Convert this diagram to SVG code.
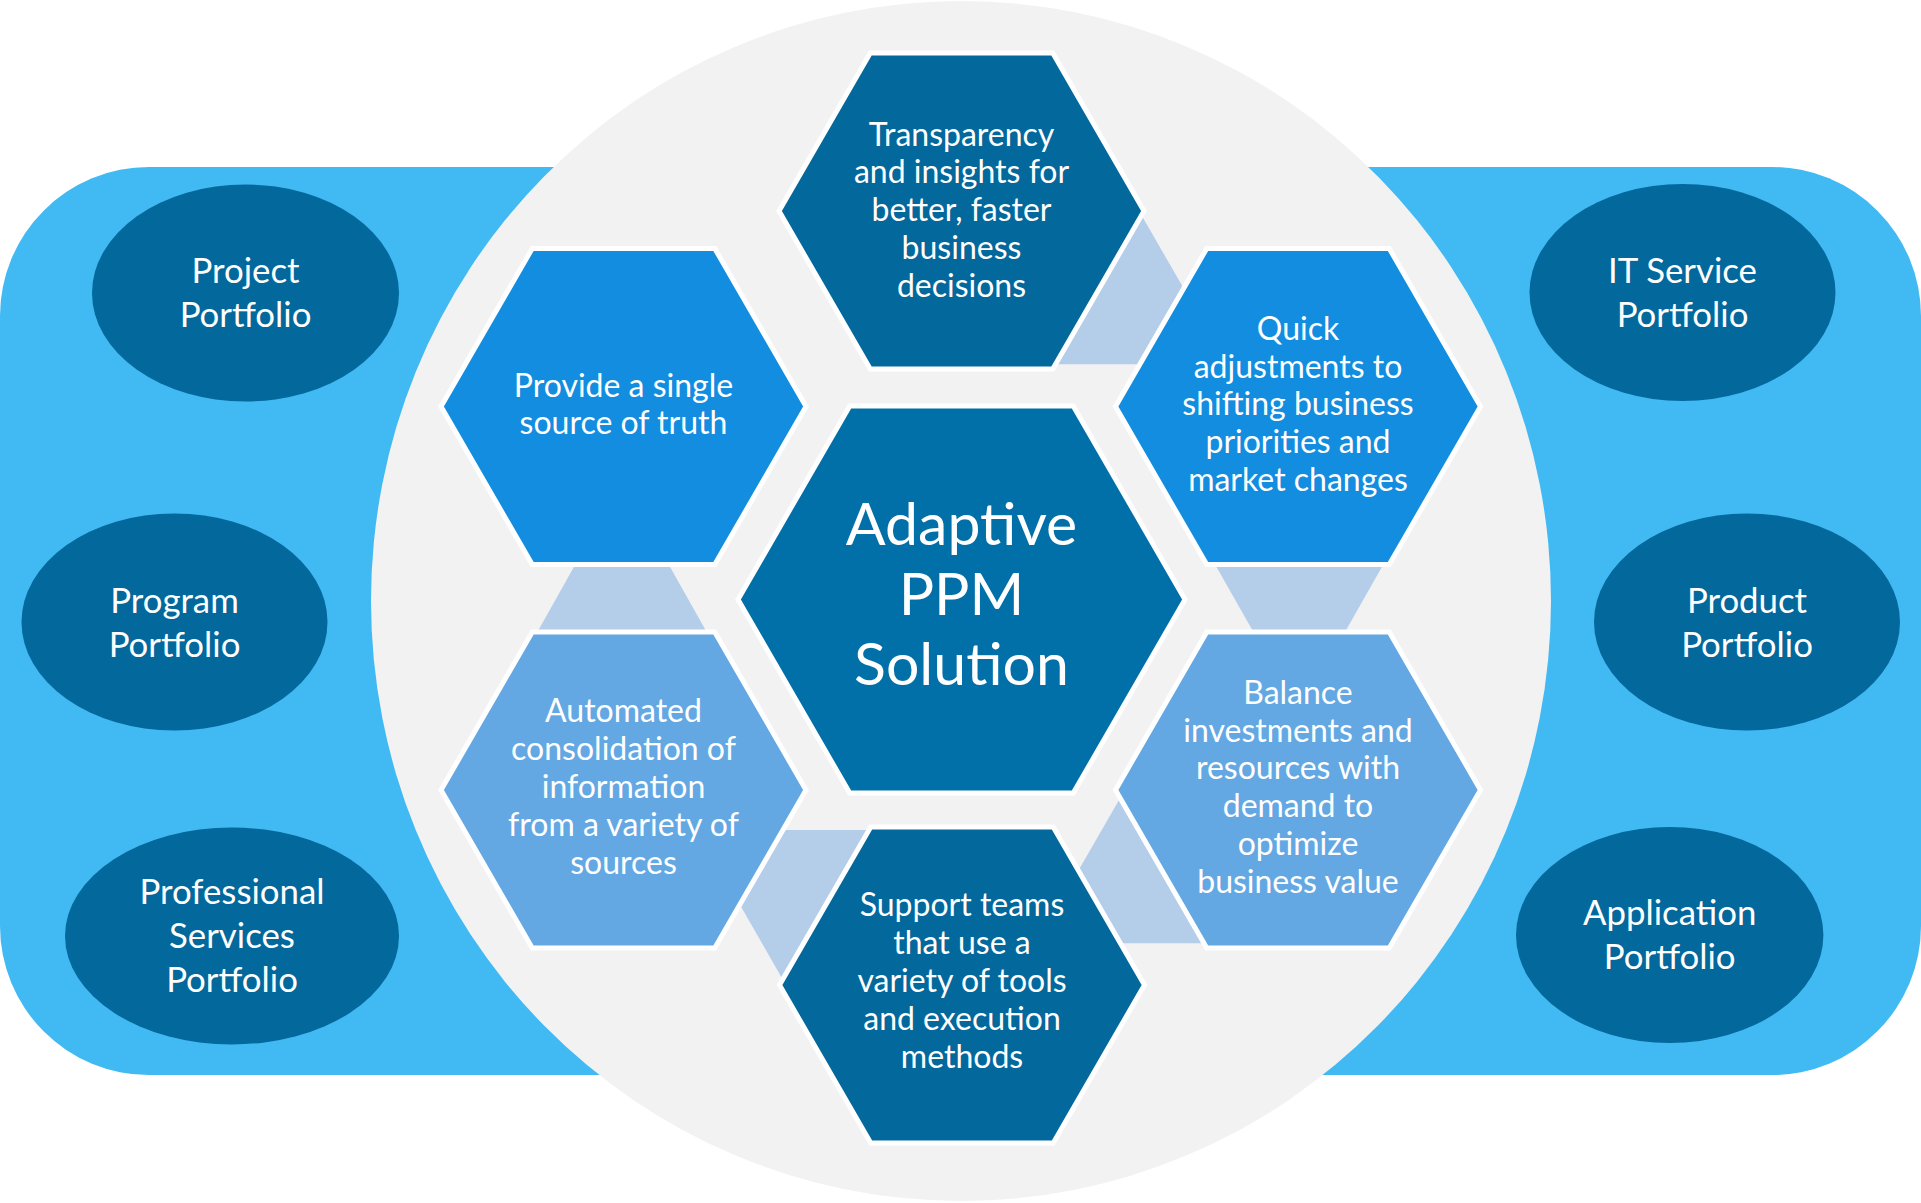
<svg xmlns="http://www.w3.org/2000/svg" width="1921" height="1203" viewBox="0 0 1921 1203">
  <style>
    .band { fill: #41B9F3; }
    .disc { fill: #F2F2F2; }
    .port { fill: #03689C; }
    .hex { stroke: #FFFFFF; stroke-width: 5; stroke-linejoin: miter; }
    .dark { fill: #03689C; }
    .core { fill: #0170A9; }
    .bright { fill: #128DE0; }
    .light { fill: #64A8E3; }
    .link { fill: #B4CDE9; }
    text { fill: #FFFFFF; font-family: Lato, "Liberation Sans", sans-serif; text-anchor: middle; }
    .t-port { font-size: 34.8px; }
    .t-hex { font-size: 32px; }
    .t-core { font-size: 59px; }
  </style>

  <rect class="band" x="0" y="167" width="1921" height="908" rx="149" ry="149"/>
  <ellipse class="disc" cx="961" cy="601" rx="590" ry="600"/>

  <g id="portfolio-project">
    <ellipse class="port" cx="245.5" cy="293" rx="153.5" ry="108.5"/>
    <text class="t-port" x="245.5" y="283">Project</text>
    <text class="t-port" x="245.5" y="327">Portfolio</text>
  </g>
  <g id="portfolio-program">
    <ellipse class="port" cx="174.5" cy="622" rx="153" ry="108.5"/>
    <text class="t-port" x="174.5" y="613">Program</text>
    <text class="t-port" x="174.5" y="657">Portfolio</text>
  </g>
  <g id="portfolio-professional-services">
    <ellipse class="port" cx="232" cy="936" rx="167" ry="108.5"/>
    <text class="t-port" x="232" y="904">Professional</text>
    <text class="t-port" x="232" y="948">Services</text>
    <text class="t-port" x="232" y="992">Portfolio</text>
  </g>
  <g id="portfolio-it-service">
    <ellipse class="port" cx="1682.5" cy="292.5" rx="153" ry="108.5"/>
    <text class="t-port" x="1682.5" y="283">IT Service</text>
    <text class="t-port" x="1682.5" y="327">Portfolio</text>
  </g>
  <g id="portfolio-product">
    <ellipse class="port" cx="1747" cy="622" rx="153" ry="108.5"/>
    <text class="t-port" x="1747" y="613">Product</text>
    <text class="t-port" x="1747" y="657">Portfolio</text>
  </g>
  <g id="portfolio-application">
    <ellipse class="port" cx="1669.7" cy="935" rx="153.7" ry="108"/>
    <text class="t-port" x="1669.7" y="925">Application</text>
    <text class="t-port" x="1669.7" y="969">Portfolio</text>
  </g>

  <g id="connectors">
    <polygon class="link" points="1141.5,215.3 1183.7,288.4 1139.9,364.3 1055.5,364.3"/>
    <polygon class="link" points="1215.1,564.5 1383.3,564.5 1345,632 1253.4,632"/>
    <polygon class="link" points="1120.2,798.1 1204,943.3 1120.4,943.3 1078.4,870.5"/>
    <polygon class="link" points="782.9,830 869,830 782.7,979.4 739.8,904.6"/>
    <polygon class="link" points="575.3,564.5 668.7,564.5 706.6,632 537.4,632"/>
  </g>

  <g id="hex-transparency">
    <polygon class="hex dark" points="779,211 870.25,52.95 1052.75,52.95 1144,211 1052.75,369.05 870.25,369.05"/>
    <text class="t-hex" x="961.5" y="145.5">Transparency</text>
    <text class="t-hex" x="961.5" y="183.3">and insights for</text>
    <text class="t-hex" x="961.5" y="221.1">better, faster</text>
    <text class="t-hex" x="961.5" y="258.9">business</text>
    <text class="t-hex" x="961.5" y="296.7">decisions</text>
  </g>
  <g id="hex-single-source">
    <polygon class="hex bright" points="441,406.5 532.25,248.45 714.75,248.45 806,406.5 714.75,564.55 532.25,564.55"/>
    <text class="t-hex" x="623.5" y="396.5">Provide a single</text>
    <text class="t-hex" x="623.5" y="434.3">source of truth</text>
  </g>
  <g id="hex-quick-adjustments">
    <polygon class="hex bright" points="1115.5,406.5 1206.75,248.45 1389.25,248.45 1480.5,406.5 1389.25,564.55 1206.75,564.55"/>
    <text class="t-hex" x="1298" y="339.8">Quick</text>
    <text class="t-hex" x="1298" y="377.6">adjustments to</text>
    <text class="t-hex" x="1298" y="415.4">shifting business</text>
    <text class="t-hex" x="1298" y="453.2">priorities and</text>
    <text class="t-hex" x="1298" y="491">market changes</text>
  </g>
  <g id="hex-automated-consolidation">
    <polygon class="hex light" points="441,790 532.25,631.95 714.75,631.95 806,790 714.75,948.05 532.25,948.05"/>
    <text class="t-hex" x="623.5" y="722.3">Automated</text>
    <text class="t-hex" x="623.5" y="760.1">consolidation of</text>
    <text class="t-hex" x="623.5" y="797.9">information</text>
    <text class="t-hex" x="623.5" y="835.7">from a variety of</text>
    <text class="t-hex" x="623.5" y="873.5">sources</text>
  </g>
  <g id="hex-balance-investments">
    <polygon class="hex light" points="1115.5,790 1206.75,631.95 1389.25,631.95 1480.5,790 1389.25,948.05 1206.75,948.05"/>
    <text class="t-hex" x="1298" y="703.8">Balance</text>
    <text class="t-hex" x="1298" y="741.6">investments and</text>
    <text class="t-hex" x="1298" y="779.4">resources with</text>
    <text class="t-hex" x="1298" y="817.2">demand to</text>
    <text class="t-hex" x="1298" y="855">optimize</text>
    <text class="t-hex" x="1298" y="892.8">business value</text>
  </g>
  <g id="hex-support-teams">
    <polygon class="hex dark" points="779.5,985 870.75,826.95 1053.25,826.95 1144.5,985 1053.25,1143.05 870.75,1143.05"/>
    <text class="t-hex" x="962" y="916.3">Support teams</text>
    <text class="t-hex" x="962" y="954.1">that use a</text>
    <text class="t-hex" x="962" y="991.9">variety of tools</text>
    <text class="t-hex" x="962" y="1029.7">and execution</text>
    <text class="t-hex" x="962" y="1067.5">methods</text>
  </g>
  <g id="hex-adaptive-ppm">
    <polygon class="hex core" points="738,599.5 849.75,405.95 1073.25,405.95 1185,599.5 1073.25,793.05 849.75,793.05"/>
    <text class="t-core" x="961.5" y="545">Adaptive</text>
    <text class="t-core" x="961.5" y="615">PPM</text>
    <text class="t-core" x="961.5" y="685">Solution</text>
  </g>
</svg>
